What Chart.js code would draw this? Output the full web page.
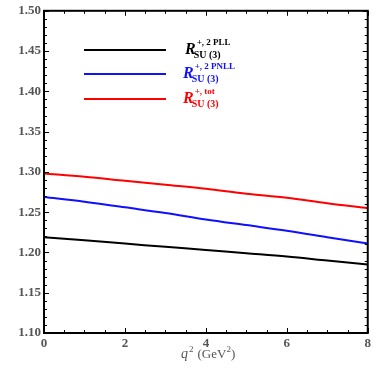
<!DOCTYPE html>
<html>
<head>
<meta charset="utf-8">
<script src="https://cdn.jsdelivr.net/npm/chart.js@4"></script>
<style>
  html, body { margin: 0; padding: 0; background: #fff; }
  #wrap { width: 374px; height: 374px; position: relative; }
</style>
</head>
<body>
<div id="wrap"><canvas id="chart" width="374" height="374"></canvas></div>
<script>
/* ================= DATA ================= */
const q2 = [0, 1, 2, 3, 4, 5, 6, 7, 8];
const pll = [1.219, 1.215, 1.211, 1.207, 1.203, 1.199, 1.195, 1.190, 1.185];
const pnll = [1.269, 1.263, 1.256, 1.249, 1.241, 1.234, 1.227, 1.219, 1.211];
const tot = [1.298, 1.294, 1.289, 1.284, 1.279, 1.273, 1.268, 1.261, 1.255];
const seriesSup = ["+, 2 PLL", "+, 2 PNLL", "+, tot"];
const seriesColors = ["#000000", "#1010ff", "#ff0000"];

const serif = "'Liberation Serif', 'DejaVu Serif', serif";
const gray = "#555";

/* ================= FRAME + TICKS ================= */
const framePlugin = {
  id: "frame",
  afterDraw(chart) {
    const { ctx, chartArea: a, scales } = chart;
    const x = scales.x, y = scales.y;
    ctx.save();
    ctx.strokeStyle = "#000";
    ctx.lineWidth = 1;
    // minor + major ticks, pointing inward on all four sides
    for (let v = 0; v <= 8.001; v += 0.5) {
      const px = Math.round(x.getPixelForValue(v)) + 0.5;
      const len = Math.abs(v % 2) < 0.01 ? 5 : 3;
      ctx.beginPath();
      ctx.moveTo(px, a.bottom); ctx.lineTo(px, a.bottom - len);
      ctx.moveTo(px, a.top); ctx.lineTo(px, a.top + len);
      ctx.stroke();
    }
    for (let i = 0; i <= 40; i++) {
      const v = 1.10 + i * 0.01;
      const py = Math.round(y.getPixelForValue(v)) + 0.5;
      const len = i % 5 === 0 ? 5 : 3;
      ctx.beginPath();
      ctx.moveTo(a.left, py); ctx.lineTo(a.left + len, py);
      ctx.moveTo(a.right, py); ctx.lineTo(a.right - len, py);
      ctx.stroke();
    }
    ctx.lineWidth = 2;
    ctx.strokeRect(a.left, a.top, a.right - a.left, a.bottom - a.top);

    // x title: q^2 (GeV^2)
    ctx.fillStyle = gray;
    ctx.textBaseline = "alphabetic";
    let tx = 181, ty = 358;
    ctx.font = "italic 14px " + serif;
    ctx.fillText("q", tx, ty); tx += ctx.measureText("q").width + 1;
    ctx.font = "9px " + serif;
    ctx.fillText("2", tx, ty - 6); tx += ctx.measureText("2").width + 4;
    ctx.font = "13px " + serif;
    ctx.fillText("(GeV", tx, ty); tx += ctx.measureText("(GeV").width;
    ctx.font = "9px " + serif;
    ctx.fillText("2", tx, ty - 6); tx += ctx.measureText("2").width;
    ctx.font = "13px " + serif;
    ctx.fillText(")", tx, ty);

    // legend
    const rows = [50, 74, 99];
    rows.forEach((ly, i) => {
      ctx.strokeStyle = seriesColors[i];
      ctx.lineWidth = 2;
      ctx.beginPath();
      ctx.moveTo(84, ly); ctx.lineTo(166, ly);
      ctx.stroke();
      ctx.fillStyle = seriesColors[i];
      const lx = i === 0 ? 185 : 183, base = ly + 4;
      ctx.font = "italic bold 16px " + serif;
      ctx.fillText("R", lx, base);
      const rx = lx + ctx.measureText("R").width;
      ctx.font = "bold 9px " + serif;
      ctx.fillText(seriesSup[i], rx + 1, base - 9);
      ctx.font = "bold 10px " + serif;
      ctx.fillText("SU (3)", rx - 2, base + 4);
    });
    ctx.restore();
  }
};

/* ================= CHART ================= */
new Chart(document.getElementById("chart"), {
  type: "line",
  data: {
    labels: q2,
    datasets: [
      { label: "PLL", data: q2.map((v, i) => ({ x: v, y: pll[i] })), borderColor: seriesColors[0] },
      { label: "PNLL", data: q2.map((v, i) => ({ x: v, y: pnll[i] })), borderColor: seriesColors[1] },
      { label: "tot", data: q2.map((v, i) => ({ x: v, y: tot[i] })), borderColor: seriesColors[2] }
    ].map(d => Object.assign(d, { borderWidth: 2, pointRadius: 0, cubicInterpolationMode: "monotone", fill: false }))
  },
  options: {
    responsive: false,
    animation: false,
    layout: { padding: { left: 0, right: 4, top: 10, bottom: 0 } },
    plugins: { legend: { display: false }, tooltip: { enabled: false } },
    scales: {
      x: {
        type: "linear", min: 0, max: 8,
        grid: { display: false, drawTicks: false },
        border: { display: false },
        ticks: {
          stepSize: 2, padding: 3, color: gray,
          font: { family: serif, size: 13, weight: "bold" }
        },
        afterFit(s) { s.height = 41; }
      },
      y: {
        min: 1.10, max: 1.50,
        grid: { display: false, drawTicks: false },
        border: { display: false },
        ticks: {
          stepSize: 0.05, padding: 3, color: gray,
          font: { family: serif, size: 13, weight: "bold" },
          callback: v => v.toFixed(2)
        },
        afterFit(s) { s.width = 44; }
      }
    }
  },
  plugins: [framePlugin]
});
</script>
</body>
</html>
